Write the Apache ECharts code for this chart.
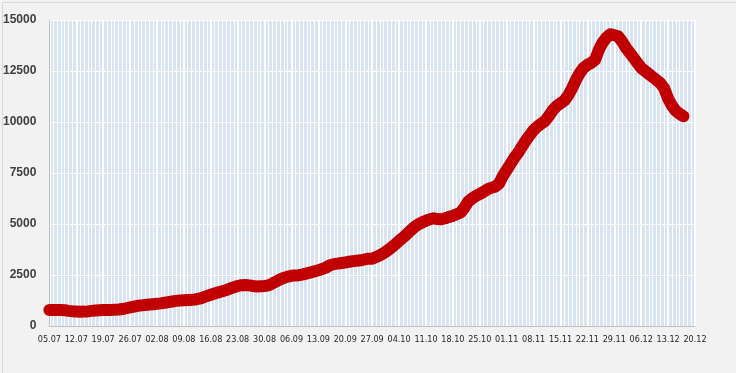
<!DOCTYPE html>
<html>
<head>
<meta charset="utf-8">
<script src="https://cdn.jsdelivr.net/npm/echarts@6/dist/echarts.min.js"></script>
<style>
html,body{margin:0;padding:0;background:#f2f2f2;}
#c{width:736px;height:373px;}
</style>
</head>
<body>
<div id="c"></div>
<script>
const categories = [
'05.07','06.07','07.07','08.07','09.07','10.07','11.07','12.07','13.07','14.07','15.07','16.07','17.07','18.07','19.07','20.07','21.07','22.07','23.07','24.07','25.07','26.07','27.07','28.07','29.07','30.07','31.07',
'01.08','02.08','03.08','04.08','05.08','06.08','07.08','08.08','09.08','10.08','11.08','12.08','13.08','14.08','15.08','16.08','17.08','18.08','19.08','20.08','21.08','22.08','23.08','24.08','25.08','26.08','27.08','28.08','29.08','30.08','31.08',
'01.09','02.09','03.09','04.09','05.09','06.09','07.09','08.09','09.09','10.09','11.09','12.09','13.09','14.09','15.09','16.09','17.09','18.09','19.09','20.09','21.09','22.09','23.09','24.09','25.09','26.09','27.09','28.09','29.09','30.09',
'01.10','02.10','03.10','04.10','05.10','06.10','07.10','08.10','09.10','10.10','11.10','12.10','13.10','14.10','15.10','16.10','17.10','18.10','19.10','20.10','21.10','22.10','23.10','24.10','25.10','26.10','27.10','28.10','29.10','30.10','31.10',
'01.11','02.11','03.11','04.11','05.11','06.11','07.11','08.11','09.11','10.11','11.11','12.11','13.11','14.11','15.11','16.11','17.11','18.11','19.11','20.11','21.11','22.11','23.11','24.11','25.11','26.11','27.11','28.11','29.11','30.11',
'01.12','02.12','03.12','04.12','05.12','06.12','07.12','08.12','09.12','10.12','11.12','12.12','13.12','14.12','15.12','16.12','17.12','18.12','19.12','20.12'
];

const values = [
790,790,785,780,770,740,720,
710,700,705,715,740,760,770,
780,785,790,800,810,830,870,
910,950,990,1010,1030,1050,1070,
1090,1110,1140,1170,1200,1230,1250,
1260,1270,1280,1300,1340,1400,1470,
1530,1590,1650,1700,1760,1830,1900,
1960,2000,2010,1990,1960,1940,1950,
1960,1990,2080,2180,2280,2360,2420,
2460,2480,2490,2530,2580,2630,2680,
2730,2790,2870,2980,3030,3060,3090,
3110,3150,3180,3200,3220,3260,3300,
3300,3380,3470,3570,3700,3850,4000,
4180,4330,4500,4680,4850,4980,5080,
5160,5230,5280,5240,5230,5280,5350,
5400,5480,5560,5800,6100,6250,6380,
6470,6580,6700,6780,6830,6980,7350,
7650,7950,8250,8500,8800,9100,9350,
9600,9780,9920,10050,10300,10580,10780,
10920,11050,11300,11650,12050,12400,12650,
12800,12900,13050,13550,13900,14150,14300,
14250,14200,13950,13650,13400,13150,12900,
12650,12500,12350,12200,12050,11900,11650,
11150,10800,10550,10400,10280,null,null,
null
];

const yMin = 0, yMax = 15000, yStep = 2500;

const chart = echarts.init(document.getElementById('c'), null, {renderer:'canvas'});
chart.setOption({
  backgroundColor: '#f2f2f2',
  animation: false,
  graphic: [{
    type: 'rect', left: 0, top: 0, silent: true, z: -10,
    shape: {x: 0.5, y: 0.5, width: 735, height: 372},
    style: {fill: 'none', stroke: '#d9d9d9', lineWidth: 1}
  }],
  grid: {
    left: 49, right: 41, top: 20, bottom: 47,
    show: true, backgroundColor: '#d8e4f1', borderWidth: 0
  },
  xAxis: [{
    type: 'category',
    data: categories,
    boundaryGap: false,
    axisLine: {show: true, lineStyle: {color: '#bfbfbf', width: 1}},
    axisTick: {show: false},
    axisLabel: {
      interval: 6,
      margin: 9,
      color: '#262626',
      fontFamily: '"DejaVu Sans Condensed","Liberation Sans Narrow","Arial Narrow",sans-serif',
      fontSize: 9,
      fontWeight: 'normal'
    },
    splitLine: {show: true, interval: 0, lineStyle: {color: '#ffffff', width: 1}}
  }, {
    type: 'category',
    data: categories,
    boundaryGap: false,
    position: 'bottom',
    axisLine: {show: false},
    axisTick: {show: false},
    axisLabel: {show: false},
    splitLine: {show: true, interval: 6, lineStyle: {color: '#ffffff', width: 2}}
  }],
  yAxis: {
    type: 'value',
    min: yMin, max: yMax, interval: yStep,
    axisLine: {show: true, lineStyle: {color: '#bfbfbf', width: 1}},
    axisTick: {show: false},
    axisLabel: {
      margin: 13,
      color: '#404040',
      fontFamily: '"Liberation Sans",Arial,sans-serif',
      fontSize: 12,
      fontWeight: 'bold',
      formatter: function (v) { return String(v); }
    },
    splitLine: {show: true, lineStyle: {color: '#ffffff', width: 1}}
  },
  series: [{
    type: 'line',
    data: values,
    xAxisIndex: 0,
    showSymbol: false,
    symbol: 'none',
    connectNulls: false,
    lineStyle: {color: '#c00000', width: 12, cap: 'round', join: 'round'},
    z: 5
  }]
});
</script>
</body>
</html>
